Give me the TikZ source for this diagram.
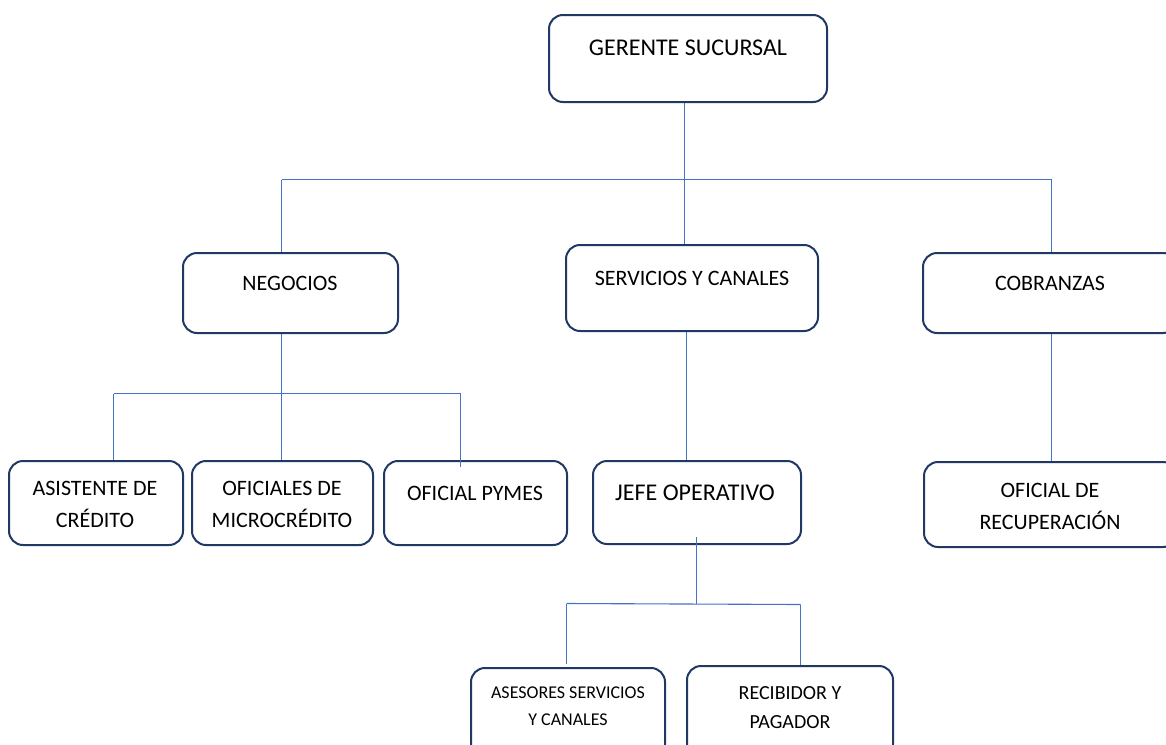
\documentclass[tikz,border=0pt]{standalone}
\usepackage{fontspec}
\setmainfont{Carlito}
\definecolor{boxline}{RGB}{31,56,100}
\definecolor{linkblue}{RGB}{68,114,196}
\tikzset{
  unit/.style={draw=boxline, line width=2pt, rounded corners=14pt, fill=white, inner sep=0pt},
  lbl/.style={inner sep=0pt, align=center, text=black, font=\fontsize{22}{32}\selectfont},
  lblbig/.style={lbl, font=\fontsize{24}{30}\selectfont},
  link/.style={draw=linkblue, line width=1.1pt}
}
\begin{document}
\begin{tikzpicture}[x=1pt, y=-1pt]
\useasboundingbox (0,0) rectangle (1166,744);
\clip (0,0) rectangle (1166,744);
\fill[white] (0,0) rectangle (1166,744);

% connectors (drawn first so boxes sit on top)
\coordinate (gerfoot) at (684.5,102);
\coordinate (srvhead) at (684.5,245);
\draw[link] (gerfoot) -- (srvhead);
\coordinate (busL) at (281.5,179.5);
\coordinate (busR) at (1051.5,179.5);
\draw[link] (busL) -- (busR);
\coordinate (negtop) at (281.5,253);
\coordinate (cobtop) at (1051.5,253);
\draw[link] (busL) -- (negtop);
\draw[link] (busR) -- (cobtop);

\coordinate (negfoot) at (281.5,333);
\coordinate (ofmtop) at (281.5,461);
\draw[link] (negfoot) -- (ofmtop);
\coordinate (nbL) at (113.5,393.5);
\coordinate (nbR) at (460.5,393.5);
\draw[link] (nbL) -- (nbR);
\coordinate (asitop) at (113.5,461);
\coordinate (pymtop) at (460.5,467);
\draw[link] (nbL) -- (asitop);

\coordinate (srvfoot) at (686.5,331);
\coordinate (jeftop) at (686.5,461);
\draw[link] (srvfoot) -- (jeftop);

\coordinate (cobfoot) at (1051.5,333);
\coordinate (rectop) at (1051.5,462);
\draw[link] (cobfoot) -- (rectop);

\coordinate (jeffoot) at (696.5,537);
\coordinate (jefbus) at (696.5,603.5);
\coordinate (jbL) at (566.5,603.5);
\coordinate (jbR) at (800.5,604.5);
\draw[link] (jbL) -- (jbR);
\coordinate (asetop) at (566.5,664);
\coordinate (rcbtop) at (800.5,668);
\draw[link] (jbL) -- (asetop);
\draw[link] (jbR) -- (rcbtop);

% boxes
\node[unit, minimum width=278pt, minimum height=87pt] (ger) at (688,58.5) {};
\node[unit, minimum width=215pt, minimum height=80pt] (neg) at (290.5,293) {};
\node[unit, minimum width=252pt, minimum height=86pt] (srv) at (692,288) {};
\node[unit, minimum width=254pt, minimum height=80pt] (cob) at (1050,293) {};
\node[unit, minimum width=174pt, minimum height=84pt] (asi) at (96,503) {};
\node[unit, minimum width=181pt, minimum height=84pt] (ofm) at (282.5,503) {};
\node[unit, minimum width=183pt, minimum height=84pt] (pym) at (475.5,503) {};
\node[unit, minimum width=208pt, minimum height=83pt] (jef) at (697,502.5) {};
\node[unit, minimum width=253pt, minimum height=85pt] (rec) at (1050.5,504.5) {};
\node[unit, minimum width=194pt, minimum height=100pt] (ase) at (568,718) {};
\node[unit, minimum width=206pt, minimum height=100pt] (rcb) at (790,716) {};

% stubs that run on into the boxes
\draw[link] (jeffoot) -- (jefbus);
\draw[link] (nbR) -- (pymtop);

% labels
\node[lblbig] (ger-t) at (688,48) {GERENTE SUCURSAL};
\node[lbl] (neg-t) at (290,283) {NEGOCIOS};
\node[lbl] (srv-t) at (692,278) {SERVICIOS Y CANALES};
\node[lbl] (cob-t) at (1050,283) {COBRANZAS};
\node[lbl] (asi-t) at (95,504) {ASISTENTE DE\\CRÉDITO};
\node[lbl] (ofm-t) at (282,504) {OFICIALES DE\\MICROCRÉDITO};
\node[lbl] (pym-t) at (475,493) {OFICIAL PYMES};
\node[lblbig] (jef-t) at (695,493) {JEFE OPERATIVO};
\node[lbl, font=\fontsize{22}{31.5}\selectfont] (rec-t) at (1050,506.5) {OFICIAL DE\\RECUPERACIÓN};
\node[lbl, font=\fontsize{18}{27}\selectfont] (ase-t) at (568,706.5) {ASESORES SERVICIOS\\Y CANALES};
\node[lbl, font=\fontsize{20}{29}\selectfont] (rcb-t) at (790,707.7) {RECIBIDOR Y\\PAGADOR};
\end{tikzpicture}
\end{document}
